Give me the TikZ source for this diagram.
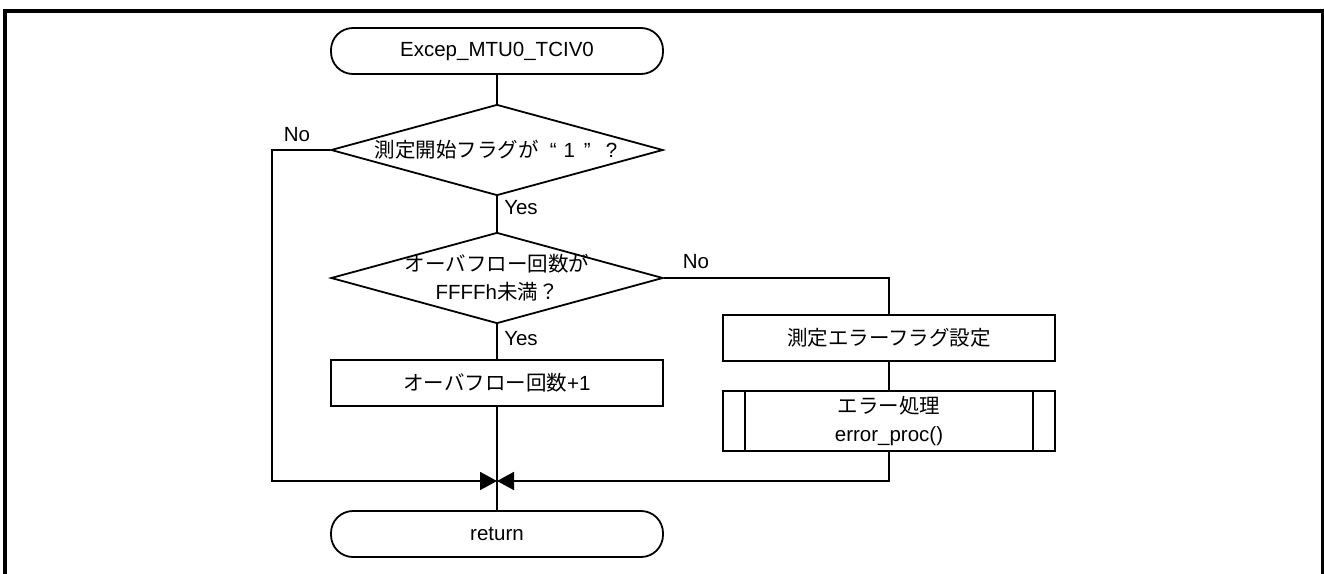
\documentclass[tikz,border=0pt]{standalone}
\usepackage{fontspec}
\setmainfont{Liberation Sans}
\newfontfamily\cjk{Noto Sans CJK JP}
\usetikzlibrary{shapes.geometric,arrows.meta}

\tikzset{
  base/.style={draw, line width=1.8pt, inner sep=0pt, align=center,
    font=\fontsize{20.5}{28}\selectfont},
  terminal/.style={base, rectangle, rounded corners=22pt,
    minimum width=332pt, minimum height=46pt},
  process/.style={base, rectangle, minimum width=332pt, minimum height=46pt},
  subproc/.style={base, rectangle, minimum width=332pt, minimum height=60pt},
  decision/.style={base, diamond, minimum width=332pt, minimum height=91pt},
  flow/.style={line width=1.8pt},
  mergeflow/.style={flow, -{Triangle[length=17pt,width=18pt]}},
  tag/.style={inner sep=0pt, font=\fontsize{20.5}{24}\selectfont},
}

\begin{document}
\begin{tikzpicture}[x=1pt,y=-1pt]
  \useasboundingbox (0,0) rectangle (1324,573);
  \clip (0,0) rectangle (1324,573);

  % page frame (open at the bottom)
  \draw[line width=3.2pt] (5,600) -- (5,11) -- (1323,11) -- (1323,600);

  % nodes
  \node[terminal] (start) at (497,51) {Excep\_MTU0\_TCIV0};
  \node[decision] (d1) at (497,150) {};
  \node[tag] (d1t) at (496,150)
    {{\cjk 測定開始フラグが}\hspace{11pt}“\hspace{7pt}1\hspace{9pt}”\hspace{15pt}?};
  \node[decision] (d2) at (497,278) {};
  \node[tag, align=center, font=\fontsize{20.5}{28}\selectfont] (d2t) at (497,278)
    {{\cjk オーバフロー回数が}\\FFFFh{\cjk 未満？}};
  \node[process] (inc) at (497,383) {{\cjk オーバフロー回数}+1};
  \node[process] (flag) at (889,338) {\cjk 測定エラーフラグ設定};
  \node[subproc] (err) at (889,421) {{\cjk エラー処理}\\error\_proc()};
  \draw[line width=1.8pt] ([xshift=23pt]err.north west) -- ([xshift=23pt]err.south west);
  \draw[line width=1.8pt] ([xshift=-23pt]err.north east) -- ([xshift=-23pt]err.south east);
  \node[terminal] (ret) at (497,534) {return};

  \coordinate (merge) at (497,481);
  \coordinate (lcorner) at (272,150);
  \coordinate (lbottom) at (272,481);
  \coordinate (rcorner) at (889,278);

  % connectors
  \draw[flow] (start) -- (d1);
  \draw[flow] (d1) -- (d2);
  \draw[flow] (d2) -- (inc);
  \draw[flow] (inc) -- (ret);
  \draw[flow] (d2.east) -- (rcorner) -- (flag);
  \draw[flow] (flag) -- (err);
  \draw[mergeflow] (d1.west) -- (lcorner) -- (lbottom) -- (merge);
  \draw[mergeflow] (err.south) |- (merge);

  % branch labels
  \node[tag] (no1) at (297,135) {No};
  \node[tag] (yes1) at (521,208) {Yes};
  \node[tag] (no2) at (696,262) {No};
  \node[tag] (yes2) at (521,339) {Yes};
\end{tikzpicture}
\end{document}
